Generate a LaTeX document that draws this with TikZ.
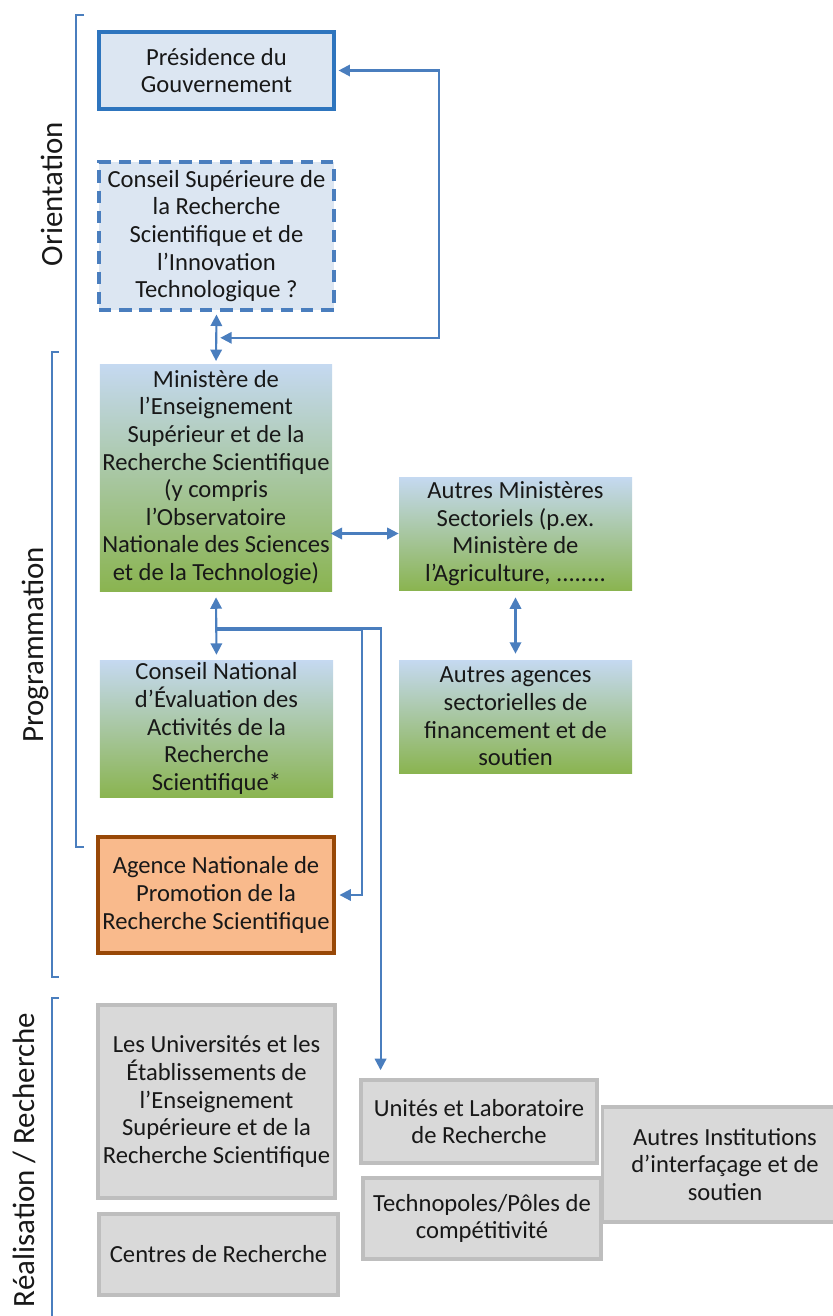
\documentclass[tikz,border=0pt]{standalone}
\usepackage{fontspec}
\setmainfont{Carlito}
\usetikzlibrary{arrows.meta,calc}

\definecolor{lineblue}{RGB}{74,126,190}
\definecolor{boxblue}{RGB}{46,117,190}
\definecolor{paleblue}{RGB}{220,230,242}
\definecolor{gradtop}{RGB}{197,217,241}
\definecolor{gradbot}{RGB}{138,180,80}
\definecolor{orangefill}{RGB}{249,186,140}
\definecolor{brownline}{RGB}{152,72,7}
\definecolor{greyfill}{RGB}{217,217,217}
\definecolor{greyline}{RGB}{190,190,190}
\definecolor{inkgrey}{RGB}{24,24,24}

\tikzset{
  box/.style={align=center, inner sep=0pt, text=inkgrey,
    font=\fontsize{14}{15.7}\selectfont},
  govbox/.style={box, draw=boxblue, fill=paleblue, line width=2.2pt},
  csbox/.style={box, draw=lineblue, fill=paleblue, line width=2.2pt,
    dash pattern=on 7pt off 4.5pt},
  gradbox/.style={box, top color=gradtop, bottom color=gradbot},
  anrbox/.style={box, draw=brownline, fill=orangefill, line width=2.2pt},
  greybox/.style={box, draw=greyline, fill=greyfill, line width=2.2pt},
  link/.style={draw=lineblue, line width=1.2pt},
  brk/.style={draw=lineblue, line width=1.2pt},
  lab/.style={text=inkgrey, font=\fontsize{17.6}{20}\selectfont, inner sep=0pt},
  >={Triangle[length=6.5pt,width=6.5pt]}
}

\begin{document}
\begin{tikzpicture}[x=0.2mm, y=-0.2mm]
\useasboundingbox (0,0) rectangle (833,1316);

% brackets and phases
\draw[brk] (84,15) -- (76,15) -- (76,847) -- (84,847);
\draw[brk] (59,352) -- (52,352) -- (52,977) -- (59,977);
\draw[brk] (59,998) -- (52,998) -- (52,1330);
\node[lab, rotate=90, anchor=base] (orientation) at (63,194) {Orientation};
\node[lab, rotate=90, anchor=base] (programmation) at (43,645) {Programmation};
\node[lab, rotate=90, anchor=base] (realisation) at (35,1160) {Réalisation / Recherche};

% orientation
\node[govbox, minimum width=4.7cm, minimum height=1.54cm] (pres) at (216.5,70.5)
  {Présidence du\\Gouvernement};
\node[csbox, minimum width=4.7cm, minimum height=2.96cm] (csrsit) at (216.5,236)
  {Conseil Supérieure de\\la Recherche\\Scientifique et de\\l’Innovation\\Technologique ?};

% programmation
\node[gradbox, minimum width=4.64cm, minimum height=4.54cm] (mesrs) at (216,477.5)
  {Ministère de\\l’Enseignement\\Supérieur et de la\\Recherche Scientifique\\(y compris\\l’Observatoire\\Nationale des Sciences\\et de la Technologie)};
\node[gradbox, minimum width=4.66cm, minimum height=2.26cm] (autmin) at (515.5,533.5)
  {Autres Ministères\\Sectoriels (p.ex.\\Ministère de\\l’Agriculture, ........};
\node[gradbox, minimum width=4.66cm, minimum height=2.74cm] (cnea) at (216.5,728.5)
  {Conseil National\\d’Évaluation des\\Activités de la\\Recherche\\Scientifique*};
\node[gradbox, minimum width=4.66cm, minimum height=2.26cm] (autag) at (515.5,716.5)
  {Autres agences\\sectorielles de\\financement et de\\soutien};
\node[anrbox, minimum width=4.72cm, minimum height=2.32cm] (anprs) at (216,895)
  {Agence Nationale de\\Promotion de la\\Recherche Scientifique};

% realisation
\node[greybox, minimum width=4.74cm, minimum height=3.86cm] (univ) at (216.5,1101.5)
  {Les Universités et les\\Établissements de\\l’Enseignement\\Supérieure et de la\\Recherche Scientifique};
\node[greybox, minimum width=4.78cm, minimum height=1.62cm] (centres) at (218.5,1254.5)
  {Centres de Recherche};
\node[greybox, minimum width=4.72cm, minimum height=1.66cm] (unites) at (479,1121.5)
  {Unités et Laboratoire\\de Recherche};
\node[greybox, minimum width=4.76cm, minimum height=1.62cm] (techno) at (482,1218.5)
  {Technopoles/Pôles de\\compétitivité};
\node[greybox, minimum width=4.9cm, minimum height=2.3cm] (autinst) at (725,1164.5)
  {Autres Institutions\\d’interfaçage et de\\soutien};

% connectors
\coordinate (orient) at ($(csrsit.south)!.5!(mesrs.north)$);
\coordinate (br) at ($(mesrs.south)!.57!(cnea.north)$);
\draw[link,<->, shorten <=1.5pt, shorten >=1.5pt] (csrsit.south) -- (mesrs.north);
\draw[link,<->, shorten <=1.5pt, shorten >=2.3pt] (pres.east) -- ++(103,0) |- (orient);
\draw[link,<->, shorten <=-1pt] (autmin.west -| mesrs.east) -- (autmin.west);
\draw[link,<->, shorten <=3.4pt, shorten >=2.8pt] (mesrs.south) -- (cnea.north);
\draw[link,<->, shorten <=4pt, shorten >=3.4pt] (autmin.south) -- (autag.north);
\draw[link,->, shorten >=2pt] (br) -| ([xshift=0.53cm]anprs.east) -- (anprs.east);
\draw[link,->, shorten >=4.5pt] ([yshift=1pt]br) -| ([xshift=0.43cm]unites.north west);
\end{tikzpicture}
\end{document}
